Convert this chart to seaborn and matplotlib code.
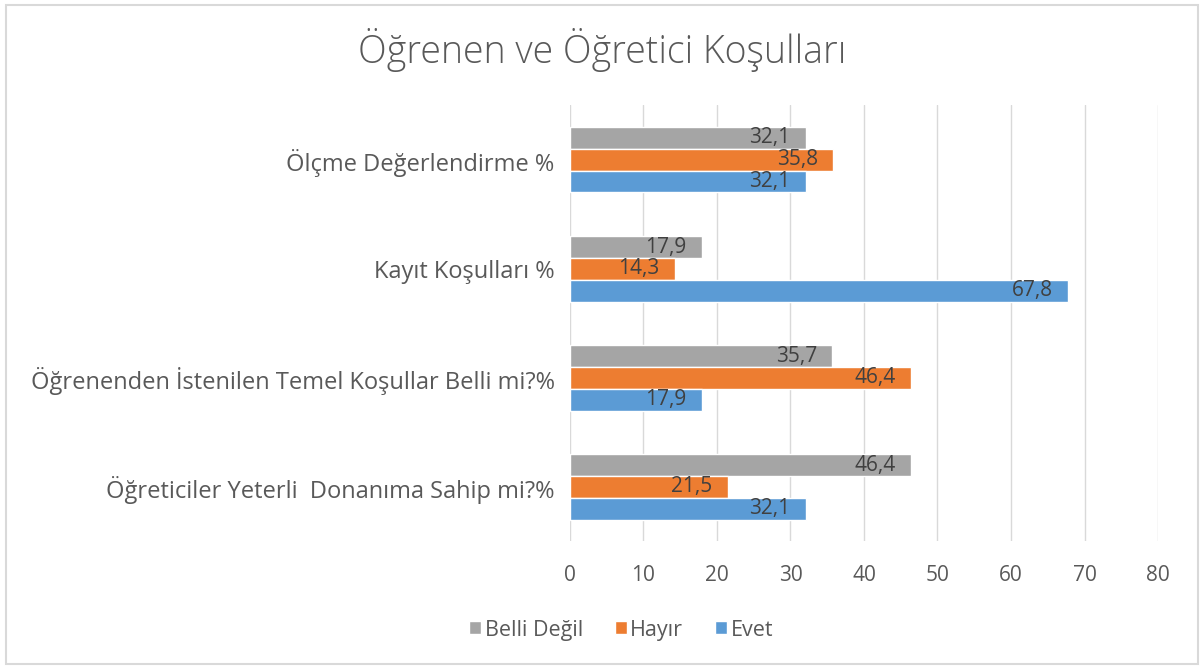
import pandas as pd
import numpy as np
import matplotlib.pyplot as plt
import seaborn as sns
from matplotlib.patches import Rectangle

categories = ['Ölçme Değerlendirme %', 'Kayıt Koşulları %',
              'Öğrenenden İstenilen Temel Koşullar Belli mi?%',
              'Öğreticiler Yeterli  Donanıma Sahip mi?%']
series = ['Belli Değil', 'Hayır', 'Evet']
belli_degil = [32.1, 17.9, 35.7, 46.4]
hayir = [35.8, 14.3, 46.4, 21.5]
evet = [32.1, 67.8, 17.9, 32.1]
x_ticks = [0, 10, 20, 30, 40, 50, 60, 70, 80]

df = pd.DataFrame({
    'Koşul': categories * 3,
    'Yanıt': [s for s in series for _ in categories],
    'Yüzde': belli_degil + hayir + evet,
})

sns.set_style('white')
plt.rcParams['font.family'] = ['Open Sans', 'DejaVu Sans']
palette = {'Belli Değil': '#A5A5A5', 'Hayır': '#ED7D31', 'Evet': '#5B9BD5'}
text_col = '#595959'

fig = plt.figure(figsize=(12.04, 6.66), dpi=100)
ax = fig.add_axes([0.4734, 0.187, 0.4884, 0.655])
sns.barplot(data=df, y='Koşul', x='Yüzde', hue='Yanıt', order=categories,
            hue_order=series, palette=palette, orient='h', width=0.6,
            saturation=1, ax=ax, legend=True)

# value labels, inside the bar end
for cont in ax.containers:
    for bar, v in zip(cont.patches, cont.datavalues):
        ax.annotate(f'{v:.1f}'.replace('.', ','),
                    (bar.get_x() + bar.get_width(), bar.get_y() + bar.get_height() / 2),
                    xytext=(-11, 0), textcoords='offset points', ha='right', va='center',
                    fontsize=15, color='#404040')

ax.set_xlim(0, 80)
ax.set_xticks(x_ticks)
ax.set_ylim(3.5, -0.5)
ax.grid(axis='x', color='#D9D9D9', linewidth=1)
ax.set_axisbelow(True)
for s in ax.spines.values():
    s.set_visible(False)
ax.tick_params(axis='x', labelsize=15, colors=text_col, length=0, pad=17)
ax.tick_params(axis='y', labelsize=17, colors=text_col, length=0, pad=11)
ax.set_xlabel('')
ax.set_ylabel('')

handles, labels = ax.get_legend_handles_labels()
ax.legend_.remove()
fig.legend(handles, labels, loc='center', bbox_to_anchor=(0.516, 0.054), ncol=3,
           frameon=False, fontsize=15.5, labelcolor=text_col, handlelength=0.55,
           handleheight=0.55, handletextpad=0.15, columnspacing=1.5)

fig.text(0.5, 0.925, 'Öğrenen ve Öğretici Koşulları', ha='center', va='center',
         fontsize=27, color=text_col, fontweight='light')
fig.add_artist(Rectangle((0.005, 0.003), 0.99, 0.99, transform=fig.transFigure,
                         fill=False, edgecolor='#D9D9D9', linewidth=1.5))

fig.savefig('out.png', dpi=100)
